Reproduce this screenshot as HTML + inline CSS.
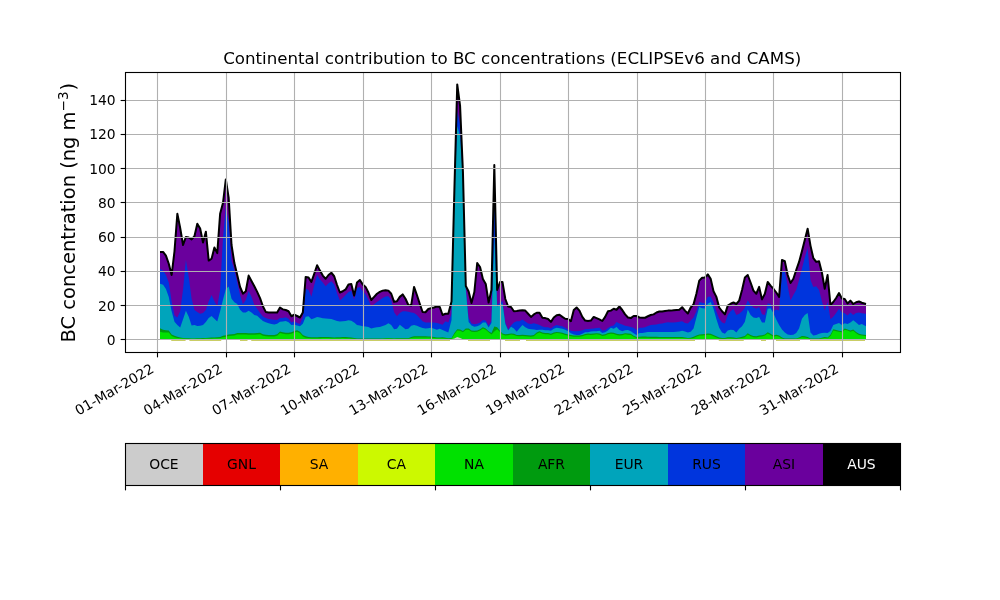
<!DOCTYPE html>
<html lang="en"><head><meta charset="utf-8"><title>Continental contribution to BC concentrations</title>
<style>
html,body{margin:0;padding:0;background:#fff;}
body{width:1000px;height:600px;overflow:hidden;}
svg{display:block;}
</style></head><body>
<svg width="1000" height="600" viewBox="0 0 1000 600">
<rect x="0" y="0" width="1000" height="600" fill="#ffffff"/>
<defs><clipPath id="axclip"><rect x="125" y="72" width="775" height="280"/></clipPath></defs>
<g id="stack" clip-path="url(#axclip)">
<path d="M160,251.9 163.08,251.9 165.93,255.6 168.78,263.75 171.63,275 174.49,251.25 177.34,213.75 180.19,228 183.04,245 185.9,236.9 188.75,237.5 191.6,239.4 194.45,236.25 197.3,223.75 200.16,228.5 203.01,242.5 205.86,231.7 208.71,260.6 211.56,258.75 214.41,247.5 217.27,253.1 220.12,213.75 222.97,203.1 225.82,179.4 228.68,198 231.53,245 234.38,263.1 237.23,275 240.08,287 242.94,293.7 245.79,291.25 248.64,275.6 251.49,281 254.34,286.25 257.19,291.9 260.05,298.1 262.9,306.25 265.75,311.9 268.6,312.5 271.45,312.5 274.31,312.5 277.16,312.5 280.01,307.5 282.86,309.38 285.72,310 288.57,311.25 291.42,316.25 294.27,314.75 297.12,316 299.98,317.5 302.83,312.5 305.68,276.88 308.53,277.5 311.38,281.88 314.24,273.75 317.09,265.2 319.94,270.62 322.79,275.62 325.64,278.75 328.5,275 331.35,272.75 334.2,276.25 337.05,285 339.9,292.5 342.75,291.25 345.61,289.38 348.46,284.38 351.31,284 354.16,295.62 357.01,282.5 359.87,280 362.72,284.38 365.57,286.88 368.42,292.5 371.27,300 374.13,296.88 376.98,293.75 379.83,291.88 382.68,290.62 385.53,290.25 388.39,290.62 391.24,293.75 394.09,301.88 396.94,301.25 399.79,296.88 402.65,294.4 405.5,298.75 408.35,305 411.2,305.4 414.05,286.9 416.91,295 419.76,303.75 422.61,312 425.46,312.25 428.31,309 431.17,308.1 434.02,307.5 436.87,306.5 439.72,306.9 442.58,315 445.43,313.75 448.28,313.8 451.53,301.5 454.38,190 457.24,84.4 460.09,106 462.94,172 465.79,286 468.64,291.5 471.5,303 474.35,292 477.2,263 480.05,267 482.9,279 485.75,284 488.61,302.5 491.46,290 494.31,165 497.16,290 500.01,282 502.47,282 505.32,299 508.17,306.5 511.02,307 513.88,311.25 516.73,311 519.58,310.6 522.43,310.25 525.28,310.6 528.13,313.75 530.99,316.9 533.84,314.4 536.69,312.75 539.54,312.75 542.39,317.75 545.25,318.1 548.1,319 550.95,321.9 553.8,317.5 556.65,315.25 559.51,314.75 562.36,316.9 565.21,318.75 568.06,319 570.91,321.25 573.77,310 576.62,307.5 579.47,310.6 582.32,316.9 585.17,320.6 588.03,321 590.88,320.6 593.73,316.9 596.58,318.1 599.43,319.4 602.29,321 605.14,316.9 607.99,311.25 610.84,310.6 613.69,308.75 616.55,309.75 619.4,306.5 622.25,310 625.1,314.4 627.95,317.5 630.81,318.1 633.66,316 636.51,316 639.36,317.5 642.22,317.75 645.07,317.75 647.92,316.25 650.77,315 653.62,314.38 656.48,312.5 659.33,311.5 662.18,311.5 665.03,311 667.88,310.62 670.74,310.62 673.59,310.25 676.44,310 679.29,309.75 682.14,307.25 685,310.62 687.85,313.5 690.7,307.5 693.55,304.38 696.4,293.75 699.25,280.62 702.11,277.75 704.96,277.5 707.81,274.38 710.66,278.75 713.51,291.25 716.37,296.88 719.22,307.5 722.07,311.25 724.92,314.38 727.77,305.62 730.63,303.75 733.48,302.5 736.33,304 739.18,300.62 742.03,290 744.89,277.5 747.74,275 750.59,282.5 753.44,290.62 756.29,293.75 759.15,286.88 762,299.4 764.85,293.75 767.7,281.9 770.55,285.6 773.41,288.75 776.26,292.5 779.11,296.9 781.96,260 784.81,261.25 787.67,275 790.52,283 793.37,278.75 796.22,270 799.07,261.9 801.93,251.25 804.78,240 807.63,228.75 810.48,245.6 813.33,258.1 816.19,261.9 819.04,261.25 821.89,272.5 824.74,288.75 827.59,275 830.45,305 833.3,302 836.15,298 839,293 841.85,298.5 844.71,299 847.56,303.5 850.41,300.6 853.26,304 856.11,302.25 858.97,301.5 861.82,302.75 866,304 866,339.25 861.82,339.25 858.97,339.25 856.11,339.25 853.26,339.25 850.41,339.25 847.56,339.25 844.71,339.25 841.85,339.25 839,339.25 836.15,339.25 833.3,339.25 830.45,339.25 827.59,339.25 824.74,339.25 821.89,339.25 819.04,339.25 816.19,339.25 813.33,339.25 810.48,339.25 807.63,339.25 804.78,339.25 801.93,339.25 799.07,339.25 796.22,339.25 793.37,339.25 790.52,339.25 787.67,339.25 784.81,339.25 781.96,339.25 779.11,339.25 776.26,339.25 773.41,339.25 770.55,339.25 767.7,339.25 764.85,339.25 762,339.25 759.15,339.25 756.29,339.25 753.44,339.25 750.59,339.25 747.74,339.25 744.89,339.25 742.03,339.25 739.18,339.25 736.33,339.25 733.48,339.25 730.63,339.25 727.77,339.25 724.92,339.25 722.07,339.25 719.22,339.25 716.37,339.25 713.51,339.25 710.66,339.25 707.81,339.25 704.96,339.25 702.11,339.25 699.25,339.25 696.4,339.25 693.55,339.25 690.7,339.25 687.85,339.25 685,339.25 682.14,339.25 679.29,339.25 676.44,339.25 673.59,339.25 670.74,339.25 667.88,339.25 665.03,339.25 662.18,339.25 659.33,339.25 656.48,339.25 653.62,339.25 650.77,339.25 647.92,339.25 645.07,339.25 642.22,339.25 639.36,339.25 636.51,339.25 633.66,339.25 630.81,339.25 627.95,339.25 625.1,339.25 622.25,339.25 619.4,339.25 616.55,339.25 613.69,339.25 610.84,339.25 607.99,339.25 605.14,339.25 602.29,339.25 599.43,339.25 596.58,339.25 593.73,339.25 590.88,339.25 588.03,339.25 585.17,339.25 582.32,339.25 579.47,339.25 576.62,339.25 573.77,339.25 570.91,339.25 568.06,339.25 565.21,339.25 562.36,339.25 559.51,339.25 556.65,339.25 553.8,339.25 550.95,339.25 548.1,339.25 545.25,339.25 542.39,339.25 539.54,339.25 536.69,339.25 533.84,339.25 530.99,339.25 528.13,339.25 525.28,339.25 522.43,339.25 519.58,339.25 516.73,339.25 513.88,339.25 511.02,339.25 508.17,339.25 505.32,339.25 502.47,339.25 500.01,339.25 497.16,339.25 494.31,339.25 491.46,339.25 488.61,339.25 485.75,339.25 482.9,339.25 480.05,339.25 477.2,339.25 474.35,339.25 471.5,339.25 468.64,339.25 465.79,339.25 462.94,339.25 460.09,339.25 457.24,339.25 454.38,339.25 451.53,339.25 448.28,339.25 445.43,339.25 442.58,339.25 439.72,339.25 436.87,339.25 434.02,339.25 431.17,339.25 428.31,339.25 425.46,339.25 422.61,339.25 419.76,339.25 416.91,339.25 414.05,339.25 411.2,339.25 408.35,339.25 405.5,339.25 402.65,339.25 399.79,339.25 396.94,339.25 394.09,339.25 391.24,339.25 388.39,339.25 385.53,339.25 382.68,339.25 379.83,339.25 376.98,339.25 374.13,339.25 371.27,339.25 368.42,339.25 365.57,339.25 362.72,339.25 359.87,339.25 357.01,339.25 354.16,339.25 351.31,339.25 348.46,339.25 345.61,339.25 342.75,339.25 339.9,339.25 337.05,339.25 334.2,339.25 331.35,339.25 328.5,339.25 325.64,339.25 322.79,339.25 319.94,339.25 317.09,339.25 314.24,339.25 311.38,339.25 308.53,339.25 305.68,339.25 302.83,339.25 299.98,339.25 297.12,339.25 294.27,339.25 291.42,339.25 288.57,339.25 285.72,339.25 282.86,339.25 280.01,339.25 277.16,339.25 274.31,339.25 271.45,339.25 268.6,339.25 265.75,339.25 262.9,339.25 260.05,339.25 257.19,339.25 254.34,339.25 251.49,339.25 248.64,339.25 245.79,339.25 242.94,339.25 240.08,339.25 237.23,339.25 234.38,339.25 231.53,339.25 228.68,339.25 225.82,339.25 222.97,339.25 220.12,339.25 217.27,339.25 214.41,339.25 211.56,339.25 208.71,339.25 205.86,339.25 203.01,339.25 200.16,339.25 197.3,339.25 194.45,339.25 191.6,339.25 188.75,339.25 185.9,339.25 183.04,339.25 180.19,339.25 177.34,339.25 174.49,339.25 171.63,339.25 168.78,339.25 165.93,339.25 163.08,339.25 160,339.25Z" fill="#6a009d"/>
<path d="M160,269 163.08,270.6 165.93,275 168.78,282.5 171.63,301.25 174.49,315.6 177.34,317.5 180.19,311.25 183.04,289.5 185.9,260 188.75,277 191.6,298.75 194.45,310 197.3,311.9 200.16,313.75 203.01,313.1 205.86,310 208.71,301.25 211.56,295 214.41,301.25 217.27,306.25 220.12,290 222.97,238 225.82,207 228.68,222 231.53,261 234.38,270 237.23,282.5 240.08,295 242.94,304.3 245.79,300 248.64,291 251.49,297 254.34,305 257.19,308.75 260.05,313 262.9,316.4 265.75,318.1 268.6,318.9 271.45,319.4 274.31,319.8 277.16,320 280.01,318.1 282.86,318.12 285.72,317.26 288.57,318.72 291.42,322.48 294.27,321.26 297.12,323.12 299.98,323.99 302.83,317.61 305.68,288.71 308.53,289.99 311.38,296.84 314.24,285.06 317.09,275 319.94,279.44 322.79,282.55 325.64,286.23 328.5,283.13 331.35,281.27 334.2,284.6 337.05,293.26 339.9,300.6 342.75,298.12 345.61,295.02 348.46,291.92 351.31,290.82 354.16,299.84 357.01,288.12 359.87,286.88 362.72,291.2 365.57,294.32 368.42,300.11 371.27,306.85 374.13,304.37 376.98,301.89 379.83,300.03 382.68,298.09 385.53,296.5 388.39,296.27 391.24,299.99 394.09,312.35 396.94,316.18 399.79,313.1 402.65,311.25 405.5,311.25 408.35,311.87 411.2,312.49 414.05,313.11 416.91,315.03 419.76,318.13 422.61,321.23 425.46,322.48 428.31,322.5 431.17,322.5 434.02,322.5 436.87,323.12 439.72,323.74 442.58,324.73 445.43,321.27 448.28,322.48 451.53,313.75 454.38,193 457.24,111 460.09,124 462.94,175 465.79,288 468.64,318 471.5,323.48 474.35,324.36 477.2,323.73 480.05,322.48 482.9,320 485.75,320.59 488.61,325.55 491.46,321 494.31,180 497.16,305 500.01,302.5 502.47,301 505.32,322.5 508.17,329.5 511.02,325.5 513.88,322.5 516.73,321.26 519.58,321.25 522.43,319.42 525.28,321.52 528.13,323.5 530.99,324 533.84,323.14 536.69,324.02 539.54,325.02 542.39,326.51 545.25,327.25 548.1,327.25 550.95,328.44 553.8,326.23 556.65,325.01 559.51,325.63 562.36,326.25 565.21,327.8 568.06,329.4 570.91,330.63 573.77,331.25 576.62,331.25 579.47,330.97 582.32,330.23 585.17,329.37 588.03,329 590.88,328.75 593.73,328.49 596.58,328.11 599.43,327.81 602.29,330.62 605.14,330.24 607.99,328.05 610.84,326.23 613.69,325.53 616.55,321.9 619.4,323.51 622.25,324.43 625.1,325.65 627.95,326.27 630.81,326.89 633.66,327.78 636.51,330.06 639.36,327.75 642.22,327.75 645.07,327.22 647.92,325.98 650.77,325 653.62,324.75 656.48,324.38 659.33,323.74 662.18,323.49 665.03,322.74 667.88,322.25 670.74,322.5 673.59,322.49 676.44,322.24 679.29,321.87 682.14,321.26 685,323.12 687.85,323.4 690.7,320.54 693.55,317.39 696.4,311.16 699.25,301.88 702.11,302.79 704.96,303.55 707.81,296.82 710.66,296.42 713.51,302.55 716.37,311.56 719.22,318.87 722.07,322.53 724.92,323.6 727.77,314.97 730.63,311.14 733.48,308.98 736.33,314.96 739.18,313.7 742.03,311.21 744.89,307.74 747.74,300.2 750.59,305.08 753.44,307.53 756.29,308.72 759.15,306.93 762,314.37 764.85,314.99 767.7,303.14 770.55,303.89 773.41,311.23 776.26,309.38 779.11,310.62 781.96,272 784.81,271 787.67,286 790.52,300.6 793.37,295 796.22,290 799.07,280 801.93,268.75 804.78,257.5 807.63,248 810.48,280 813.33,287 816.19,286.25 819.04,290 821.89,301.25 824.74,310.6 827.59,302.01 830.45,319.31 833.3,316.81 836.15,313.09 839,308.7 841.85,312.52 844.71,313.2 847.56,315.56 850.41,312.53 853.26,314.91 856.11,313.1 858.97,312.52 861.82,313.14 866,313.75 866,339.25 861.82,339.25 858.97,339.25 856.11,339.25 853.26,339.25 850.41,339.25 847.56,339.25 844.71,339.25 841.85,339.25 839,339.25 836.15,339.25 833.3,339.25 830.45,339.25 827.59,339.25 824.74,339.25 821.89,339.25 819.04,339.25 816.19,339.25 813.33,339.25 810.48,339.25 807.63,339.25 804.78,339.25 801.93,339.25 799.07,339.25 796.22,339.25 793.37,339.25 790.52,339.25 787.67,339.25 784.81,339.25 781.96,339.25 779.11,339.25 776.26,339.25 773.41,339.25 770.55,339.25 767.7,339.25 764.85,339.25 762,339.25 759.15,339.25 756.29,339.25 753.44,339.25 750.59,339.25 747.74,339.25 744.89,339.25 742.03,339.25 739.18,339.25 736.33,339.25 733.48,339.25 730.63,339.25 727.77,339.25 724.92,339.25 722.07,339.25 719.22,339.25 716.37,339.25 713.51,339.25 710.66,339.25 707.81,339.25 704.96,339.25 702.11,339.25 699.25,339.25 696.4,339.25 693.55,339.25 690.7,339.25 687.85,339.25 685,339.25 682.14,339.25 679.29,339.25 676.44,339.25 673.59,339.25 670.74,339.25 667.88,339.25 665.03,339.25 662.18,339.25 659.33,339.25 656.48,339.25 653.62,339.25 650.77,339.25 647.92,339.25 645.07,339.25 642.22,339.25 639.36,339.25 636.51,339.25 633.66,339.25 630.81,339.25 627.95,339.25 625.1,339.25 622.25,339.25 619.4,339.25 616.55,339.25 613.69,339.25 610.84,339.25 607.99,339.25 605.14,339.25 602.29,339.25 599.43,339.25 596.58,339.25 593.73,339.25 590.88,339.25 588.03,339.25 585.17,339.25 582.32,339.25 579.47,339.25 576.62,339.25 573.77,339.25 570.91,339.25 568.06,339.25 565.21,339.25 562.36,339.25 559.51,339.25 556.65,339.25 553.8,339.25 550.95,339.25 548.1,339.25 545.25,339.25 542.39,339.25 539.54,339.25 536.69,339.25 533.84,339.25 530.99,339.25 528.13,339.25 525.28,339.25 522.43,339.25 519.58,339.25 516.73,339.25 513.88,339.25 511.02,339.25 508.17,339.25 505.32,339.25 502.47,339.25 500.01,339.25 497.16,339.25 494.31,339.25 491.46,339.25 488.61,339.25 485.75,339.25 482.9,339.25 480.05,339.25 477.2,339.25 474.35,339.25 471.5,339.25 468.64,339.25 465.79,339.25 462.94,339.25 460.09,339.25 457.24,339.25 454.38,339.25 451.53,339.25 448.28,339.25 445.43,339.25 442.58,339.25 439.72,339.25 436.87,339.25 434.02,339.25 431.17,339.25 428.31,339.25 425.46,339.25 422.61,339.25 419.76,339.25 416.91,339.25 414.05,339.25 411.2,339.25 408.35,339.25 405.5,339.25 402.65,339.25 399.79,339.25 396.94,339.25 394.09,339.25 391.24,339.25 388.39,339.25 385.53,339.25 382.68,339.25 379.83,339.25 376.98,339.25 374.13,339.25 371.27,339.25 368.42,339.25 365.57,339.25 362.72,339.25 359.87,339.25 357.01,339.25 354.16,339.25 351.31,339.25 348.46,339.25 345.61,339.25 342.75,339.25 339.9,339.25 337.05,339.25 334.2,339.25 331.35,339.25 328.5,339.25 325.64,339.25 322.79,339.25 319.94,339.25 317.09,339.25 314.24,339.25 311.38,339.25 308.53,339.25 305.68,339.25 302.83,339.25 299.98,339.25 297.12,339.25 294.27,339.25 291.42,339.25 288.57,339.25 285.72,339.25 282.86,339.25 280.01,339.25 277.16,339.25 274.31,339.25 271.45,339.25 268.6,339.25 265.75,339.25 262.9,339.25 260.05,339.25 257.19,339.25 254.34,339.25 251.49,339.25 248.64,339.25 245.79,339.25 242.94,339.25 240.08,339.25 237.23,339.25 234.38,339.25 231.53,339.25 228.68,339.25 225.82,339.25 222.97,339.25 220.12,339.25 217.27,339.25 214.41,339.25 211.56,339.25 208.71,339.25 205.86,339.25 203.01,339.25 200.16,339.25 197.3,339.25 194.45,339.25 191.6,339.25 188.75,339.25 185.9,339.25 183.04,339.25 180.19,339.25 177.34,339.25 174.49,339.25 171.63,339.25 168.78,339.25 165.93,339.25 163.08,339.25 160,339.25Z" fill="#0035dd"/>
<path d="M160,283.75 163.08,284.73 165.93,288.91 168.78,297.04 171.63,311.29 174.49,321.83 177.34,324.96 180.19,327.45 183.04,319.24 185.9,310.67 188.75,316.87 191.6,325.55 194.45,325.03 197.3,326 200.16,325.87 203.01,324.99 205.86,321.89 208.71,318.06 211.56,316.06 214.41,318.79 217.27,321.44 220.12,311.27 222.97,299.65 225.82,289.3 228.68,286.47 231.53,298.78 234.38,302.25 237.23,303.97 240.08,309.83 242.94,312.5 245.79,312.48 248.64,310.63 251.49,312.6 254.34,315.02 257.19,315.67 260.05,318.5 262.9,321 265.75,322.3 268.6,323.3 271.45,324 274.31,324.6 277.16,323.73 280.01,321.87 282.86,321.5 285.72,321.01 288.57,322.22 291.42,325 294.27,324.76 297.12,325.62 299.98,326.24 302.83,323.79 305.68,316.82 308.53,316.16 311.38,319.37 314.24,318.13 317.09,316.89 319.94,317.51 322.79,318.13 325.64,318.5 328.5,318.75 331.35,319 334.2,320.03 337.05,321.01 339.9,321.5 342.75,321.25 345.61,321 348.46,320.26 351.31,320.66 354.16,322.53 357.01,325 359.87,325.62 362.72,326.24 365.57,326.5 368.42,326.9 371.27,328.49 374.13,327.75 376.98,327.25 379.83,326.88 382.68,325.98 385.53,324.98 388.39,323.13 391.24,324.99 394.09,329.32 396.94,328.71 399.79,324.8 402.65,326.89 405.5,329.37 408.35,328.76 411.2,325.68 414.05,325.02 416.91,325.64 419.76,326.88 422.61,328.12 425.46,328.5 428.31,328.13 431.17,327.76 434.02,328.76 436.87,329.75 439.72,328.76 442.58,329.98 445.43,331.27 448.28,332.48 451.53,320 454.38,196 457.24,126 460.09,136 462.94,178 465.79,289.5 468.64,322 471.5,325.46 474.35,326.86 477.2,326.23 480.05,324.98 482.9,322.49 485.75,322.46 488.61,327.43 491.46,323 494.31,237 497.16,306.5 500.01,305 502.47,303.5 505.32,324 508.17,330.5 511.02,326.8 513.88,328.5 516.73,331.76 519.58,328.15 522.43,325.04 525.28,327.27 528.13,328.75 530.99,329.37 533.84,329.38 536.69,329.99 539.54,329.75 542.39,329.75 545.25,330.25 548.1,330.25 550.95,330.82 553.8,328.73 556.65,327.75 559.51,328.13 562.36,328.75 565.21,329.79 568.06,331.29 570.91,333.14 573.77,334.38 576.62,335 579.47,334.96 582.32,333.71 585.17,332.25 588.03,332.24 590.88,331.5 593.73,331.25 596.58,331.23 599.43,330.68 602.29,333.11 605.14,332.24 607.99,330.51 610.84,327.78 613.69,328.7 616.55,326.93 619.4,330.01 622.25,331.21 625.1,330.24 627.95,330.03 630.81,331.29 633.66,333.15 636.51,335.03 639.36,333.12 642.22,333.12 645.07,332.49 647.92,332.12 650.77,331.88 653.62,332.12 656.48,332.12 659.33,332.12 662.18,332.12 665.03,332.12 667.88,332.12 670.74,332.12 673.59,332.12 676.44,331.87 679.29,331.49 682.14,330.63 685,331.5 687.85,332.48 690.7,331.79 693.55,328.55 696.4,317.4 699.25,306.88 702.11,308.24 704.96,308.6 707.81,303.71 710.66,301.97 713.51,308.8 716.37,319.11 719.22,327.66 722.07,332.53 724.92,333.7 727.77,330.62 730.63,329.76 733.48,330.09 736.33,332.39 739.18,328.7 742.03,326.2 744.89,321.87 747.74,309.56 750.59,315.08 753.44,317.51 756.29,318.1 759.15,316.92 762,322.5 764.85,322.5 767.7,308.73 770.55,308.22 773.41,313.19 776.26,319.39 779.11,324.97 781.96,329.47 784.81,332.54 787.67,334.38 790.52,335 793.37,334.75 796.22,332.98 799.07,328.49 801.93,318.68 804.78,314.95 807.63,313.01 810.48,332.62 813.33,335.61 816.19,334.97 819.04,333.74 821.89,333.12 824.74,332.77 827.59,333.06 830.45,331.09 833.3,324.92 836.15,323.99 839,323.08 841.85,324.93 844.71,323.15 847.56,323.97 850.41,322.47 853.26,320.36 856.11,322.6 858.97,324.97 861.82,324.05 866,326.26 866,339.25 861.82,339.25 858.97,339.25 856.11,339.25 853.26,339.25 850.41,339.25 847.56,339.25 844.71,339.25 841.85,339.25 839,339.25 836.15,339.25 833.3,339.25 830.45,339.25 827.59,339.25 824.74,339.25 821.89,339.25 819.04,339.25 816.19,339.25 813.33,339.25 810.48,339.25 807.63,339.25 804.78,339.25 801.93,339.25 799.07,339.25 796.22,339.25 793.37,339.25 790.52,339.25 787.67,339.25 784.81,339.25 781.96,339.25 779.11,339.25 776.26,339.25 773.41,339.25 770.55,339.25 767.7,339.25 764.85,339.25 762,339.25 759.15,339.25 756.29,339.25 753.44,339.25 750.59,339.25 747.74,339.25 744.89,339.25 742.03,339.25 739.18,339.25 736.33,339.25 733.48,339.25 730.63,339.25 727.77,339.25 724.92,339.25 722.07,339.25 719.22,339.25 716.37,339.25 713.51,339.25 710.66,339.25 707.81,339.25 704.96,339.25 702.11,339.25 699.25,339.25 696.4,339.25 693.55,339.25 690.7,339.25 687.85,339.25 685,339.25 682.14,339.25 679.29,339.25 676.44,339.25 673.59,339.25 670.74,339.25 667.88,339.25 665.03,339.25 662.18,339.25 659.33,339.25 656.48,339.25 653.62,339.25 650.77,339.25 647.92,339.25 645.07,339.25 642.22,339.25 639.36,339.25 636.51,339.25 633.66,339.25 630.81,339.25 627.95,339.25 625.1,339.25 622.25,339.25 619.4,339.25 616.55,339.25 613.69,339.25 610.84,339.25 607.99,339.25 605.14,339.25 602.29,339.25 599.43,339.25 596.58,339.25 593.73,339.25 590.88,339.25 588.03,339.25 585.17,339.25 582.32,339.25 579.47,339.25 576.62,339.25 573.77,339.25 570.91,339.25 568.06,339.25 565.21,339.25 562.36,339.25 559.51,339.25 556.65,339.25 553.8,339.25 550.95,339.25 548.1,339.25 545.25,339.25 542.39,339.25 539.54,339.25 536.69,339.25 533.84,339.25 530.99,339.25 528.13,339.25 525.28,339.25 522.43,339.25 519.58,339.25 516.73,339.25 513.88,339.25 511.02,339.25 508.17,339.25 505.32,339.25 502.47,339.25 500.01,339.25 497.16,339.25 494.31,339.25 491.46,339.25 488.61,339.25 485.75,339.25 482.9,339.25 480.05,339.25 477.2,339.25 474.35,339.25 471.5,339.25 468.64,339.25 465.79,339.25 462.94,339.25 460.09,339.25 457.24,339.25 454.38,339.25 451.53,339.25 448.28,339.25 445.43,339.25 442.58,339.25 439.72,339.25 436.87,339.25 434.02,339.25 431.17,339.25 428.31,339.25 425.46,339.25 422.61,339.25 419.76,339.25 416.91,339.25 414.05,339.25 411.2,339.25 408.35,339.25 405.5,339.25 402.65,339.25 399.79,339.25 396.94,339.25 394.09,339.25 391.24,339.25 388.39,339.25 385.53,339.25 382.68,339.25 379.83,339.25 376.98,339.25 374.13,339.25 371.27,339.25 368.42,339.25 365.57,339.25 362.72,339.25 359.87,339.25 357.01,339.25 354.16,339.25 351.31,339.25 348.46,339.25 345.61,339.25 342.75,339.25 339.9,339.25 337.05,339.25 334.2,339.25 331.35,339.25 328.5,339.25 325.64,339.25 322.79,339.25 319.94,339.25 317.09,339.25 314.24,339.25 311.38,339.25 308.53,339.25 305.68,339.25 302.83,339.25 299.98,339.25 297.12,339.25 294.27,339.25 291.42,339.25 288.57,339.25 285.72,339.25 282.86,339.25 280.01,339.25 277.16,339.25 274.31,339.25 271.45,339.25 268.6,339.25 265.75,339.25 262.9,339.25 260.05,339.25 257.19,339.25 254.34,339.25 251.49,339.25 248.64,339.25 245.79,339.25 242.94,339.25 240.08,339.25 237.23,339.25 234.38,339.25 231.53,339.25 228.68,339.25 225.82,339.25 222.97,339.25 220.12,339.25 217.27,339.25 214.41,339.25 211.56,339.25 208.71,339.25 205.86,339.25 203.01,339.25 200.16,339.25 197.3,339.25 194.45,339.25 191.6,339.25 188.75,339.25 185.9,339.25 183.04,339.25 180.19,339.25 177.34,339.25 174.49,339.25 171.63,339.25 168.78,339.25 165.93,339.25 163.08,339.25 160,339.25Z" fill="#00a4bb"/>
<path d="M160,328.25 163.08,329.73 165.93,330.25 168.78,330.41 171.63,334.38 174.49,335.87 177.34,336.86 180.19,337.49 183.04,337.88 185.9,338.25 188.75,338.37 191.6,338.5 194.45,338.44 197.3,338.37 200.16,338.25 203.01,338.12 205.86,337.93 208.71,337.75 211.56,337.62 214.41,337.5 217.27,337.19 220.12,336.88 222.97,335.85 225.82,335.25 228.68,334.45 231.53,334.2 234.38,333.95 237.23,333.07 240.08,332.95 242.94,332.95 245.79,332.95 248.64,333.2 251.49,333.32 254.34,333.19 257.19,332.94 260.05,332.71 262.9,334.13 265.75,334.76 268.6,335 271.45,335 274.31,334.99 277.16,334.36 280.01,331.5 282.86,332.25 285.72,332.74 288.57,332.75 291.42,332.23 294.27,330.99 297.12,330.25 299.98,331.86 302.83,334.95 305.68,336.26 308.53,336.88 311.38,337.25 314.24,337.25 317.09,337.25 319.94,337.06 322.79,336.88 325.64,336.88 328.5,336.88 331.35,337.19 334.2,337.5 337.05,337.37 339.9,337.25 342.75,336.88 345.61,337.12 348.46,337.31 351.31,337.51 354.16,338.01 357.01,338.5 359.87,338.5 362.72,338.5 365.57,338.5 368.42,338.5 371.27,338.5 374.13,338.5 376.98,338.5 379.83,338.5 382.68,338.49 385.53,338.18 388.39,337.88 391.24,338.25 394.09,338.5 396.94,338.37 399.79,338.25 402.65,338.21 405.5,338.17 408.35,338.13 411.2,336.9 414.05,336.27 416.91,336.25 419.76,336.25 422.61,336.25 425.46,336.25 428.31,336.38 431.17,336.51 434.02,336.88 436.87,337.5 439.72,337.38 442.58,337.25 445.43,337.76 448.28,338.22 451.53,338.05 454.38,332.99 457.24,329.22 460.09,329.49 462.94,331.04 465.79,328.57 468.64,328.57 471.5,330.43 474.35,330.69 477.2,330.43 480.05,329.18 482.9,327.32 485.75,328.55 488.61,331.13 491.46,332.9 494.31,326.62 497.16,327.33 500.01,330.85 502.47,333.4 505.32,334.24 508.17,333.99 511.02,333.38 513.88,333.75 516.73,334.88 519.58,335 522.43,334.75 525.28,335 528.13,335.25 530.99,335.62 533.84,335.01 536.69,332.47 539.54,331.27 542.39,332.5 545.25,333.12 548.1,333.12 550.95,333.72 553.8,332.49 556.65,331.88 559.51,332.13 562.36,332.75 565.21,333.77 568.06,334.39 570.91,335.01 573.77,335.62 576.62,335.62 579.47,335.6 582.32,334.97 585.17,333.99 588.03,333.5 590.88,333.75 593.73,333.49 596.58,333.14 599.43,333.53 602.29,334.75 605.14,334.37 607.99,333.1 610.84,332.51 613.69,332.77 616.55,333.76 619.4,334.37 622.25,333.96 625.1,333.14 627.95,333.51 630.81,333.79 633.66,335.64 636.51,336.89 639.36,336.63 642.22,336.62 645.07,336.62 647.92,336.63 650.77,336.71 653.62,336.79 656.48,336.87 659.33,336.88 662.18,336.88 665.03,336.88 667.88,336.88 670.74,336.88 673.59,336.88 676.44,336.88 679.29,336.88 682.14,336.88 685,337.5 687.85,337.88 690.7,337.85 693.55,336.85 696.4,335.61 699.25,334.38 702.11,334.36 704.96,333.99 707.81,333.51 710.66,333.77 713.51,335.01 716.37,336.3 719.22,337.52 722.07,338.12 724.92,338.11 727.77,337.25 730.63,337.26 733.48,337.52 736.33,338.11 739.18,337.49 742.03,336.87 744.89,336.1 747.74,333.2 750.59,335.03 753.44,336.01 756.29,336.25 759.15,335.62 762,335.25 764.85,334.38 767.7,332.29 770.55,333.79 773.41,335.62 776.26,334.75 779.11,335.62 781.96,337.53 784.81,338.5 787.67,338.5 790.52,338.5 793.37,338.5 796.22,338.47 799.07,337.46 801.93,336 804.78,336.26 807.63,336.88 810.48,338.5 813.33,338.5 816.19,338.5 819.04,338.5 821.89,337.74 824.74,336.9 827.59,337.42 830.45,334.86 833.3,329.34 836.15,330.01 839,330.65 841.85,331.15 844.71,328.52 847.56,329.4 850.41,330.61 853.26,329.49 856.11,331.95 858.97,333.77 861.82,334.39 866,335 866,339.25 861.82,339.25 858.97,339.25 856.11,339.25 853.26,339.25 850.41,339.25 847.56,339.25 844.71,339.25 841.85,339.25 839,339.25 836.15,339.25 833.3,339.25 830.45,339.25 827.59,339.25 824.74,339.25 821.89,339.25 819.04,339.25 816.19,339.25 813.33,339.25 810.48,339.25 807.63,339.25 804.78,339.25 801.93,339.25 799.07,339.25 796.22,339.25 793.37,339.25 790.52,339.25 787.67,339.25 784.81,339.25 781.96,339.25 779.11,339.25 776.26,339.25 773.41,339.25 770.55,339.25 767.7,339.25 764.85,339.25 762,339.25 759.15,339.25 756.29,339.25 753.44,339.25 750.59,339.25 747.74,339.25 744.89,339.25 742.03,339.25 739.18,339.25 736.33,339.25 733.48,339.25 730.63,339.25 727.77,339.25 724.92,339.25 722.07,339.25 719.22,339.25 716.37,339.25 713.51,339.25 710.66,339.25 707.81,339.25 704.96,339.25 702.11,339.25 699.25,339.25 696.4,339.25 693.55,339.25 690.7,339.25 687.85,339.25 685,339.25 682.14,339.25 679.29,339.25 676.44,339.25 673.59,339.25 670.74,339.25 667.88,339.25 665.03,339.25 662.18,339.25 659.33,339.25 656.48,339.25 653.62,339.25 650.77,339.25 647.92,339.25 645.07,339.25 642.22,339.25 639.36,339.25 636.51,339.25 633.66,339.25 630.81,339.25 627.95,339.25 625.1,339.25 622.25,339.25 619.4,339.25 616.55,339.25 613.69,339.25 610.84,339.25 607.99,339.25 605.14,339.25 602.29,339.25 599.43,339.25 596.58,339.25 593.73,339.25 590.88,339.25 588.03,339.25 585.17,339.25 582.32,339.25 579.47,339.25 576.62,339.25 573.77,339.25 570.91,339.25 568.06,339.25 565.21,339.25 562.36,339.25 559.51,339.25 556.65,339.25 553.8,339.25 550.95,339.25 548.1,339.25 545.25,339.25 542.39,339.25 539.54,339.25 536.69,339.25 533.84,339.25 530.99,339.25 528.13,339.25 525.28,339.25 522.43,339.25 519.58,339.25 516.73,339.25 513.88,339.25 511.02,339.25 508.17,339.25 505.32,339.25 502.47,339.25 500.01,339.25 497.16,339.25 494.31,339.25 491.46,339.25 488.61,339.25 485.75,339.25 482.9,339.25 480.05,339.25 477.2,339.25 474.35,339.25 471.5,339.25 468.64,339.25 465.79,339.25 462.94,339.25 460.09,339.25 457.24,339.25 454.38,339.25 451.53,339.25 448.28,339.25 445.43,339.25 442.58,339.25 439.72,339.25 436.87,339.25 434.02,339.25 431.17,339.25 428.31,339.25 425.46,339.25 422.61,339.25 419.76,339.25 416.91,339.25 414.05,339.25 411.2,339.25 408.35,339.25 405.5,339.25 402.65,339.25 399.79,339.25 396.94,339.25 394.09,339.25 391.24,339.25 388.39,339.25 385.53,339.25 382.68,339.25 379.83,339.25 376.98,339.25 374.13,339.25 371.27,339.25 368.42,339.25 365.57,339.25 362.72,339.25 359.87,339.25 357.01,339.25 354.16,339.25 351.31,339.25 348.46,339.25 345.61,339.25 342.75,339.25 339.9,339.25 337.05,339.25 334.2,339.25 331.35,339.25 328.5,339.25 325.64,339.25 322.79,339.25 319.94,339.25 317.09,339.25 314.24,339.25 311.38,339.25 308.53,339.25 305.68,339.25 302.83,339.25 299.98,339.25 297.12,339.25 294.27,339.25 291.42,339.25 288.57,339.25 285.72,339.25 282.86,339.25 280.01,339.25 277.16,339.25 274.31,339.25 271.45,339.25 268.6,339.25 265.75,339.25 262.9,339.25 260.05,339.25 257.19,339.25 254.34,339.25 251.49,339.25 248.64,339.25 245.79,339.25 242.94,339.25 240.08,339.25 237.23,339.25 234.38,339.25 231.53,339.25 228.68,339.25 225.82,339.25 222.97,339.25 220.12,339.25 217.27,339.25 214.41,339.25 211.56,339.25 208.71,339.25 205.86,339.25 203.01,339.25 200.16,339.25 197.3,339.25 194.45,339.25 191.6,339.25 188.75,339.25 185.9,339.25 183.04,339.25 180.19,339.25 177.34,339.25 174.49,339.25 171.63,339.25 168.78,339.25 165.93,339.25 163.08,339.25 160,339.25Z" fill="#009b0f"/>
<path d="M160,331.65 163.08,332.53 165.93,332.55 168.78,332.41 171.63,336.08 174.49,337.37 177.34,338.06 180.19,338.37 183.04,338.57 185.9,338.75 188.75,338.81 191.6,338.87 194.45,338.84 197.3,338.81 200.16,338.75 203.01,338.69 205.86,338.59 208.71,338.5 211.56,338.44 214.41,338.37 217.27,338.22 220.12,338.06 222.97,337.35 225.82,336.75 228.68,335.95 231.53,335.7 234.38,335.45 237.23,334.57 240.08,334.45 242.94,334.45 245.79,334.45 248.64,334.7 251.49,334.82 254.34,334.69 257.19,334.44 260.05,334.21 262.9,335.63 265.75,336.26 268.6,336.5 271.45,336.5 274.31,336.49 277.16,335.86 280.01,333 282.86,333.75 285.72,334.24 288.57,334.25 291.42,333.73 294.27,332.49 297.12,331.75 299.98,333.36 302.83,336.45 305.68,337.76 308.53,338.06 311.38,338.25 314.24,338.25 317.09,338.25 319.94,338.16 322.79,338.06 325.64,338.06 328.5,338.06 331.35,338.22 334.2,338.37 337.05,338.31 339.9,338.25 342.75,338.06 345.61,338.19 348.46,338.28 351.31,338.38 354.16,338.63 357.01,338.88 359.87,338.88 362.72,338.88 365.57,338.88 368.42,338.88 371.27,338.88 374.13,338.88 376.98,338.88 379.83,338.88 382.68,338.87 385.53,338.72 388.39,338.56 391.24,338.75 394.09,338.87 396.94,338.81 399.79,338.75 402.65,338.73 405.5,338.71 408.35,338.69 411.2,338.07 414.05,337.47 416.91,337.45 419.76,337.45 422.61,337.45 425.46,337.45 428.31,337.58 431.17,337.71 434.02,338.06 436.87,338.37 439.72,338.31 442.58,338.25 445.43,338.5 448.28,338.74 451.53,338.65 454.38,334.19 457.24,330.42 460.09,330.69 462.94,332.24 465.79,329.77 468.64,329.77 471.5,331.63 474.35,331.89 477.2,331.63 480.05,330.38 482.9,328.52 485.75,329.75 488.61,332.33 491.46,334.4 494.31,331.62 497.16,329.33 500.01,332.05 502.47,334.6 505.32,335.44 508.17,335.19 511.02,334.58 513.88,334.95 516.73,336.08 519.58,336.2 522.43,335.95 525.28,336.2 528.13,336.45 530.99,336.82 533.84,336.21 536.69,333.67 539.54,332.47 542.39,333.7 545.25,334.32 548.1,334.32 550.95,334.92 553.8,333.69 556.65,333.08 559.51,333.33 562.36,333.95 565.21,334.97 568.06,335.59 570.91,336.21 573.77,336.82 576.62,336.82 579.47,336.8 582.32,336.17 585.17,335.19 588.03,334.7 590.88,334.95 593.73,334.69 596.58,334.34 599.43,334.73 602.29,335.95 605.14,335.57 607.99,334.3 610.84,333.71 613.69,333.97 616.55,334.96 619.4,335.57 622.25,335.16 625.1,334.34 627.95,334.71 630.81,334.99 633.66,336.84 636.51,338.07 639.36,337.83 642.22,337.82 645.07,337.82 647.92,337.83 650.77,337.91 653.62,337.99 656.48,338.06 659.33,338.06 662.18,338.06 665.03,338.06 667.88,338.06 670.74,338.06 673.59,338.06 676.44,338.06 679.29,338.06 682.14,338.06 685,338.37 687.85,338.56 690.7,338.55 693.55,338.05 696.4,336.81 699.25,335.57 702.11,335.56 704.96,335.19 707.81,334.71 710.66,334.97 713.51,336.21 716.37,337.5 719.22,338.39 722.07,338.69 724.92,338.68 727.77,338.25 730.63,338.26 733.48,338.39 736.33,338.68 739.18,338.37 742.03,338.06 744.89,337.3 747.74,334.4 750.59,336.23 753.44,337.21 756.29,337.45 759.15,336.82 762,336.45 764.85,335.58 767.7,333.49 770.55,334.99 773.41,336.82 776.26,335.95 779.11,336.82 781.96,338.39 784.81,338.88 787.67,338.88 790.52,338.88 793.37,338.88 796.22,338.86 799.07,338.36 801.93,337.2 804.78,337.46 807.63,338.06 810.48,338.88 813.33,338.88 816.19,338.88 819.04,338.88 821.89,338.5 824.74,338.08 827.59,338.33 830.45,336.06 833.3,330.54 836.15,331.21 839,331.85 841.85,332.35 844.71,329.72 847.56,330.6 850.41,331.81 853.26,330.69 856.11,333.15 858.97,334.97 861.82,335.59 866,336.2 866,339.25 861.82,339.25 858.97,339.25 856.11,339.25 853.26,339.25 850.41,339.25 847.56,339.25 844.71,339.25 841.85,339.25 839,339.25 836.15,339.25 833.3,339.25 830.45,339.25 827.59,339.25 824.74,339.25 821.89,339.25 819.04,339.25 816.19,339.25 813.33,339.25 810.48,339.25 807.63,339.25 804.78,339.25 801.93,339.25 799.07,339.25 796.22,339.25 793.37,339.25 790.52,339.25 787.67,339.25 784.81,339.25 781.96,339.25 779.11,339.25 776.26,339.25 773.41,339.25 770.55,339.25 767.7,339.25 764.85,339.25 762,339.25 759.15,339.25 756.29,339.25 753.44,339.25 750.59,339.25 747.74,339.25 744.89,339.25 742.03,339.25 739.18,339.25 736.33,339.25 733.48,339.25 730.63,339.25 727.77,339.25 724.92,339.25 722.07,339.25 719.22,339.25 716.37,339.25 713.51,339.25 710.66,339.25 707.81,339.25 704.96,339.25 702.11,339.25 699.25,339.25 696.4,339.25 693.55,339.25 690.7,339.25 687.85,339.25 685,339.25 682.14,339.25 679.29,339.25 676.44,339.25 673.59,339.25 670.74,339.25 667.88,339.25 665.03,339.25 662.18,339.25 659.33,339.25 656.48,339.25 653.62,339.25 650.77,339.25 647.92,339.25 645.07,339.25 642.22,339.25 639.36,339.25 636.51,339.25 633.66,339.25 630.81,339.25 627.95,339.25 625.1,339.25 622.25,339.25 619.4,339.25 616.55,339.25 613.69,339.25 610.84,339.25 607.99,339.25 605.14,339.25 602.29,339.25 599.43,339.25 596.58,339.25 593.73,339.25 590.88,339.25 588.03,339.25 585.17,339.25 582.32,339.25 579.47,339.25 576.62,339.25 573.77,339.25 570.91,339.25 568.06,339.25 565.21,339.25 562.36,339.25 559.51,339.25 556.65,339.25 553.8,339.25 550.95,339.25 548.1,339.25 545.25,339.25 542.39,339.25 539.54,339.25 536.69,339.25 533.84,339.25 530.99,339.25 528.13,339.25 525.28,339.25 522.43,339.25 519.58,339.25 516.73,339.25 513.88,339.25 511.02,339.25 508.17,339.25 505.32,339.25 502.47,339.25 500.01,339.25 497.16,339.25 494.31,339.25 491.46,339.25 488.61,339.25 485.75,339.25 482.9,339.25 480.05,339.25 477.2,339.25 474.35,339.25 471.5,339.25 468.64,339.25 465.79,339.25 462.94,339.25 460.09,339.25 457.24,339.25 454.38,339.25 451.53,339.25 448.28,339.25 445.43,339.25 442.58,339.25 439.72,339.25 436.87,339.25 434.02,339.25 431.17,339.25 428.31,339.25 425.46,339.25 422.61,339.25 419.76,339.25 416.91,339.25 414.05,339.25 411.2,339.25 408.35,339.25 405.5,339.25 402.65,339.25 399.79,339.25 396.94,339.25 394.09,339.25 391.24,339.25 388.39,339.25 385.53,339.25 382.68,339.25 379.83,339.25 376.98,339.25 374.13,339.25 371.27,339.25 368.42,339.25 365.57,339.25 362.72,339.25 359.87,339.25 357.01,339.25 354.16,339.25 351.31,339.25 348.46,339.25 345.61,339.25 342.75,339.25 339.9,339.25 337.05,339.25 334.2,339.25 331.35,339.25 328.5,339.25 325.64,339.25 322.79,339.25 319.94,339.25 317.09,339.25 314.24,339.25 311.38,339.25 308.53,339.25 305.68,339.25 302.83,339.25 299.98,339.25 297.12,339.25 294.27,339.25 291.42,339.25 288.57,339.25 285.72,339.25 282.86,339.25 280.01,339.25 277.16,339.25 274.31,339.25 271.45,339.25 268.6,339.25 265.75,339.25 262.9,339.25 260.05,339.25 257.19,339.25 254.34,339.25 251.49,339.25 248.64,339.25 245.79,339.25 242.94,339.25 240.08,339.25 237.23,339.25 234.38,339.25 231.53,339.25 228.68,339.25 225.82,339.25 222.97,339.25 220.12,339.25 217.27,339.25 214.41,339.25 211.56,339.25 208.71,339.25 205.86,339.25 203.01,339.25 200.16,339.25 197.3,339.25 194.45,339.25 191.6,339.25 188.75,339.25 185.9,339.25 183.04,339.25 180.19,339.25 177.34,339.25 174.49,339.25 171.63,339.25 168.78,339.25 165.93,339.25 163.08,339.25 160,339.25Z" fill="#00e100"/>
<path d="M160,339.25 163.08,339.25 165.93,339.25 168.78,339.25 171.63,339.25 174.49,339.25 177.34,339.25 180.19,339.25 183.04,339.25 185.9,339.25 188.75,339.25 191.6,339.25 194.45,339.25 197.3,339.25 200.16,339.25 203.01,339.25 205.86,339.25 208.71,339.25 211.56,339.25 214.41,339.25 217.27,339.25 220.12,339.25 222.97,339.25 225.82,339.25 228.68,339.25 231.53,339.25 234.38,339.25 237.23,339.25 240.08,339.25 242.94,339.25 245.79,339.25 248.64,339.25 251.49,339.25 254.34,339.25 257.19,339.25 260.05,339.25 262.9,339.25 265.75,339.25 268.6,339.25 271.45,339.25 274.31,339.25 277.16,339.25 280.01,339.25 282.86,339.25 285.72,339.25 288.57,339.25 291.42,339.25 294.27,339.25 297.12,339.25 299.98,339.25 302.83,339.25 305.68,339.25 308.53,339.25 311.38,339.25 314.24,339.25 317.09,339.25 319.94,339.25 322.79,339.25 325.64,339.25 328.5,339.25 331.35,339.25 334.2,339.25 337.05,339.25 339.9,339.25 342.75,339.25 345.61,339.25 348.46,339.25 351.31,339.25 354.16,339.25 357.01,339.25 359.87,339.25 362.72,339.25 365.57,339.25 368.42,339.25 371.27,339.25 374.13,339.25 376.98,339.25 379.83,339.25 382.68,339.25 385.53,339.25 388.39,339.25 391.24,339.25 394.09,339.25 396.94,339.25 399.79,339.25 402.65,339.25 405.5,339.25 408.35,339.25 411.2,339.25 414.05,339.25 416.91,339.25 419.76,339.25 422.61,339.25 425.46,339.25 428.31,339.25 431.17,339.25 434.02,339.25 436.87,339.25 439.72,339.25 442.58,339.25 445.43,339.25 448.28,339.25 451.53,339.25 454.38,338.45 457.24,336.95 460.09,338.05 462.94,339.25 465.79,339.25 468.64,339.25 471.5,339.25 474.35,339.25 477.2,339.25 480.05,339.25 482.9,339.25 485.75,339.25 488.61,339.25 491.46,339.25 494.31,339.25 497.16,339.25 500.01,339.25 502.47,339.25 505.32,339.25 508.17,339.25 511.02,339.25 513.88,339.25 516.73,339.25 519.58,339.25 522.43,339.25 525.28,339.25 528.13,339.25 530.99,339.25 533.84,339.25 536.69,339.25 539.54,339.25 542.39,339.25 545.25,339.25 548.1,339.25 550.95,339.25 553.8,339.25 556.65,339.25 559.51,339.25 562.36,339.25 565.21,339.25 568.06,339.25 570.91,339.25 573.77,339.25 576.62,339.25 579.47,339.25 582.32,339.25 585.17,339.25 588.03,339.25 590.88,339.25 593.73,339.25 596.58,339.25 599.43,339.25 602.29,339.25 605.14,339.25 607.99,339.25 610.84,339.25 613.69,339.25 616.55,339.25 619.4,339.25 622.25,339.25 625.1,339.25 627.95,339.25 630.81,339.25 633.66,339.25 636.51,339.25 639.36,339.25 642.22,339.25 645.07,339.25 647.92,339.25 650.77,339.25 653.62,339.25 656.48,339.25 659.33,339.25 662.18,339.25 665.03,339.25 667.88,339.25 670.74,339.25 673.59,339.25 676.44,339.25 679.29,339.25 682.14,339.25 685,339.25 687.85,339.25 690.7,339.25 693.55,339.25 696.4,339.25 699.25,339.25 702.11,339.25 704.96,339.25 707.81,339.25 710.66,339.25 713.51,339.25 716.37,339.25 719.22,339.25 722.07,339.25 724.92,339.25 727.77,339.25 730.63,339.25 733.48,339.25 736.33,339.25 739.18,339.25 742.03,339.25 744.89,339.25 747.74,339.25 750.59,339.25 753.44,339.25 756.29,339.25 759.15,339.25 762,339.25 764.85,339.25 767.7,339.25 770.55,339.25 773.41,339.25 776.26,339.25 779.11,339.25 781.96,339.25 784.81,339.25 787.67,339.25 790.52,339.25 793.37,339.25 796.22,339.25 799.07,339.25 801.93,339.25 804.78,339.25 807.63,339.25 810.48,339.25 813.33,339.25 816.19,339.25 819.04,339.25 821.89,339.25 824.74,339.25 827.59,339.25 830.45,339.25 833.3,339.25 836.15,339.25 839,339.25 841.85,339.25 844.71,339.25 847.56,339.25 850.41,339.25 853.26,339.25 856.11,339.25 858.97,339.25 861.82,339.25 866,339.25 866,339.25 861.82,339.25 858.97,339.25 856.11,339.25 853.26,339.25 850.41,339.25 847.56,339.25 844.71,339.25 841.85,339.25 839,339.25 836.15,339.25 833.3,339.25 830.45,339.25 827.59,339.25 824.74,339.25 821.89,339.25 819.04,339.25 816.19,339.25 813.33,339.25 810.48,339.25 807.63,339.25 804.78,339.25 801.93,339.25 799.07,339.25 796.22,339.25 793.37,339.25 790.52,339.25 787.67,339.25 784.81,339.25 781.96,339.25 779.11,339.25 776.26,339.25 773.41,339.25 770.55,339.25 767.7,339.25 764.85,339.25 762,339.25 759.15,339.25 756.29,339.25 753.44,339.25 750.59,339.25 747.74,339.25 744.89,339.25 742.03,339.25 739.18,339.25 736.33,339.25 733.48,339.25 730.63,339.25 727.77,339.25 724.92,339.25 722.07,339.25 719.22,339.25 716.37,339.25 713.51,339.25 710.66,339.25 707.81,339.25 704.96,339.25 702.11,339.25 699.25,339.25 696.4,339.25 693.55,339.25 690.7,339.25 687.85,339.25 685,339.25 682.14,339.25 679.29,339.25 676.44,339.25 673.59,339.25 670.74,339.25 667.88,339.25 665.03,339.25 662.18,339.25 659.33,339.25 656.48,339.25 653.62,339.25 650.77,339.25 647.92,339.25 645.07,339.25 642.22,339.25 639.36,339.25 636.51,339.25 633.66,339.25 630.81,339.25 627.95,339.25 625.1,339.25 622.25,339.25 619.4,339.25 616.55,339.25 613.69,339.25 610.84,339.25 607.99,339.25 605.14,339.25 602.29,339.25 599.43,339.25 596.58,339.25 593.73,339.25 590.88,339.25 588.03,339.25 585.17,339.25 582.32,339.25 579.47,339.25 576.62,339.25 573.77,339.25 570.91,339.25 568.06,339.25 565.21,339.25 562.36,339.25 559.51,339.25 556.65,339.25 553.8,339.25 550.95,339.25 548.1,339.25 545.25,339.25 542.39,339.25 539.54,339.25 536.69,339.25 533.84,339.25 530.99,339.25 528.13,339.25 525.28,339.25 522.43,339.25 519.58,339.25 516.73,339.25 513.88,339.25 511.02,339.25 508.17,339.25 505.32,339.25 502.47,339.25 500.01,339.25 497.16,339.25 494.31,339.25 491.46,339.25 488.61,339.25 485.75,339.25 482.9,339.25 480.05,339.25 477.2,339.25 474.35,339.25 471.5,339.25 468.64,339.25 465.79,339.25 462.94,339.25 460.09,339.25 457.24,339.25 454.38,339.25 451.53,339.25 448.28,339.25 445.43,339.25 442.58,339.25 439.72,339.25 436.87,339.25 434.02,339.25 431.17,339.25 428.31,339.25 425.46,339.25 422.61,339.25 419.76,339.25 416.91,339.25 414.05,339.25 411.2,339.25 408.35,339.25 405.5,339.25 402.65,339.25 399.79,339.25 396.94,339.25 394.09,339.25 391.24,339.25 388.39,339.25 385.53,339.25 382.68,339.25 379.83,339.25 376.98,339.25 374.13,339.25 371.27,339.25 368.42,339.25 365.57,339.25 362.72,339.25 359.87,339.25 357.01,339.25 354.16,339.25 351.31,339.25 348.46,339.25 345.61,339.25 342.75,339.25 339.9,339.25 337.05,339.25 334.2,339.25 331.35,339.25 328.5,339.25 325.64,339.25 322.79,339.25 319.94,339.25 317.09,339.25 314.24,339.25 311.38,339.25 308.53,339.25 305.68,339.25 302.83,339.25 299.98,339.25 297.12,339.25 294.27,339.25 291.42,339.25 288.57,339.25 285.72,339.25 282.86,339.25 280.01,339.25 277.16,339.25 274.31,339.25 271.45,339.25 268.6,339.25 265.75,339.25 262.9,339.25 260.05,339.25 257.19,339.25 254.34,339.25 251.49,339.25 248.64,339.25 245.79,339.25 242.94,339.25 240.08,339.25 237.23,339.25 234.38,339.25 231.53,339.25 228.68,339.25 225.82,339.25 222.97,339.25 220.12,339.25 217.27,339.25 214.41,339.25 211.56,339.25 208.71,339.25 205.86,339.25 203.01,339.25 200.16,339.25 197.3,339.25 194.45,339.25 191.6,339.25 188.75,339.25 185.9,339.25 183.04,339.25 180.19,339.25 177.34,339.25 174.49,339.25 171.63,339.25 168.78,339.25 165.93,339.25 163.08,339.25 160,339.25Z" fill="#cccccc"/>
<rect x="171.25" y="339.3" width="14.35" height="1.3" fill="#a8ac00"/>
<rect x="189.4" y="339.3" width="31.85" height="1.3" fill="#a8ac00"/>
<rect x="240" y="339.3" width="7.5" height="1.3" fill="#a8ac00"/>
<rect x="251.25" y="339.3" width="198.75" height="1.3" fill="#a8ac00"/>
<rect x="468" y="339.3" width="22" height="1.3" fill="#a8ac00"/>
<rect x="505" y="339.3" width="15" height="1.3" fill="#a8ac00"/>
<rect x="526" y="339.3" width="169" height="1.3" fill="#a8ac00"/>
<rect x="718.75" y="339.3" width="25" height="1.3" fill="#a8ac00"/>
<rect x="761" y="339.3" width="5" height="1.3" fill="#a8ac00"/>
<rect x="776" y="339.3" width="24" height="1.3" fill="#a8ac00"/>
<rect x="810" y="339.3" width="55" height="1.3" fill="#a8ac00"/>
</g>
<path id="total" d="M160,251.9 163.08,251.9 165.93,255.6 168.78,263.75 171.63,275 174.49,251.25 177.34,213.75 180.19,228 183.04,245 185.9,236.9 188.75,237.5 191.6,239.4 194.45,236.25 197.3,223.75 200.16,228.5 203.01,242.5 205.86,231.7 208.71,260.6 211.56,258.75 214.41,247.5 217.27,253.1 220.12,213.75 222.97,203.1 225.82,179.4 228.68,198 231.53,245 234.38,263.1 237.23,275 240.08,287 242.94,293.7 245.79,291.25 248.64,275.6 251.49,281 254.34,286.25 257.19,291.9 260.05,298.1 262.9,306.25 265.75,311.9 268.6,312.5 271.45,312.5 274.31,312.5 277.16,312.5 280.01,307.5 282.86,309.38 285.72,310 288.57,311.25 291.42,316.25 294.27,314.75 297.12,316 299.98,317.5 302.83,312.5 305.68,276.88 308.53,277.5 311.38,281.88 314.24,273.75 317.09,265.2 319.94,270.62 322.79,275.62 325.64,278.75 328.5,275 331.35,272.75 334.2,276.25 337.05,285 339.9,292.5 342.75,291.25 345.61,289.38 348.46,284.38 351.31,284 354.16,295.62 357.01,282.5 359.87,280 362.72,284.38 365.57,286.88 368.42,292.5 371.27,300 374.13,296.88 376.98,293.75 379.83,291.88 382.68,290.62 385.53,290.25 388.39,290.62 391.24,293.75 394.09,301.88 396.94,301.25 399.79,296.88 402.65,294.4 405.5,298.75 408.35,305 411.2,305.4 414.05,286.9 416.91,295 419.76,303.75 422.61,312 425.46,312.25 428.31,309 431.17,308.1 434.02,307.5 436.87,306.5 439.72,306.9 442.58,315 445.43,313.75 448.28,313.8 451.53,301.5 454.38,190 457.24,84.4 460.09,106 462.94,172 465.79,286 468.64,291.5 471.5,303 474.35,292 477.2,263 480.05,267 482.9,279 485.75,284 488.61,302.5 491.46,290 494.31,165 497.16,290 500.01,282 502.47,282 505.32,299 508.17,306.5 511.02,307 513.88,311.25 516.73,311 519.58,310.6 522.43,310.25 525.28,310.6 528.13,313.75 530.99,316.9 533.84,314.4 536.69,312.75 539.54,312.75 542.39,317.75 545.25,318.1 548.1,319 550.95,321.9 553.8,317.5 556.65,315.25 559.51,314.75 562.36,316.9 565.21,318.75 568.06,319 570.91,321.25 573.77,310 576.62,307.5 579.47,310.6 582.32,316.9 585.17,320.6 588.03,321 590.88,320.6 593.73,316.9 596.58,318.1 599.43,319.4 602.29,321 605.14,316.9 607.99,311.25 610.84,310.6 613.69,308.75 616.55,309.75 619.4,306.5 622.25,310 625.1,314.4 627.95,317.5 630.81,318.1 633.66,316 636.51,316 639.36,317.5 642.22,317.75 645.07,317.75 647.92,316.25 650.77,315 653.62,314.38 656.48,312.5 659.33,311.5 662.18,311.5 665.03,311 667.88,310.62 670.74,310.62 673.59,310.25 676.44,310 679.29,309.75 682.14,307.25 685,310.62 687.85,313.5 690.7,307.5 693.55,304.38 696.4,293.75 699.25,280.62 702.11,277.75 704.96,277.5 707.81,274.38 710.66,278.75 713.51,291.25 716.37,296.88 719.22,307.5 722.07,311.25 724.92,314.38 727.77,305.62 730.63,303.75 733.48,302.5 736.33,304 739.18,300.62 742.03,290 744.89,277.5 747.74,275 750.59,282.5 753.44,290.62 756.29,293.75 759.15,286.88 762,299.4 764.85,293.75 767.7,281.9 770.55,285.6 773.41,288.75 776.26,292.5 779.11,296.9 781.96,260 784.81,261.25 787.67,275 790.52,283 793.37,278.75 796.22,270 799.07,261.9 801.93,251.25 804.78,240 807.63,228.75 810.48,245.6 813.33,258.1 816.19,261.9 819.04,261.25 821.89,272.5 824.74,288.75 827.59,275 830.45,305 833.3,302 836.15,298 839,293 841.85,298.5 844.71,299 847.56,303.5 850.41,300.6 853.26,304 856.11,302.25 858.97,301.5 861.82,302.75 866,304" fill="none" stroke="#000000" stroke-width="2.0" stroke-linejoin="round" stroke-linecap="butt" clip-path="url(#axclip)"/>
<g id="grid" stroke="#b0b0b0" stroke-width="1.111" fill="none">
<path d="M157.5 72V352"/>
<path d="M226.5 72V352"/>
<path d="M294.5 72V352"/>
<path d="M363.5 72V352"/>
<path d="M431.5 72V352"/>
<path d="M500.5 72V352"/>
<path d="M568.5 72V352"/>
<path d="M637.5 72V352"/>
<path d="M705.5 72V352"/>
<path d="M773.5 72V352"/>
<path d="M842.5 72V352"/>
<path d="M125 339.5H900"/>
<path d="M125 305.5H900"/>
<path d="M125 271.5H900"/>
<path d="M125 237.5H900"/>
<path d="M125 202.5H900"/>
<path d="M125 168.5H900"/>
<path d="M125 134.5H900"/>
<path d="M125 100.5H900"/>
</g>
<g id="ticks" stroke="#000000" stroke-width="1.111" fill="none">
<path d="M157.5 352.5v4.86"/>
<path d="M226.5 352.5v4.86"/>
<path d="M294.5 352.5v4.86"/>
<path d="M363.5 352.5v4.86"/>
<path d="M431.5 352.5v4.86"/>
<path d="M500.5 352.5v4.86"/>
<path d="M568.5 352.5v4.86"/>
<path d="M637.5 352.5v4.86"/>
<path d="M705.5 352.5v4.86"/>
<path d="M773.5 352.5v4.86"/>
<path d="M842.5 352.5v4.86"/>
<path d="M125.5 339.5h-4.86"/>
<path d="M125.5 305.5h-4.86"/>
<path d="M125.5 271.5h-4.86"/>
<path d="M125.5 237.5h-4.86"/>
<path d="M125.5 202.5h-4.86"/>
<path d="M125.5 168.5h-4.86"/>
<path d="M125.5 134.5h-4.86"/>
<path d="M125.5 100.5h-4.86"/>
</g>
<g id="xlabels" style="font-size:13.889px;font-family:'DejaVu Sans','Liberation Sans',sans-serif" fill="#000000" text-anchor="end">
<text transform="translate(155 371.62) rotate(-30)">01-Mar-2022</text>
<text transform="translate(223.46 371.62) rotate(-30)">04-Mar-2022</text>
<text transform="translate(291.91 371.62) rotate(-30)">07-Mar-2022</text>
<text transform="translate(360.37 371.62) rotate(-30)">10-Mar-2022</text>
<text transform="translate(428.83 371.62) rotate(-30)">13-Mar-2022</text>
<text transform="translate(497.28 371.62) rotate(-30)">16-Mar-2022</text>
<text transform="translate(565.74 371.62) rotate(-30)">19-Mar-2022</text>
<text transform="translate(634.2 371.62) rotate(-30)">22-Mar-2022</text>
<text transform="translate(702.66 371.62) rotate(-30)">25-Mar-2022</text>
<text transform="translate(771.11 371.62) rotate(-30)">28-Mar-2022</text>
<text transform="translate(839.57 371.62) rotate(-30)">31-Mar-2022</text>
</g>
<g id="ylabels" style="font-size:13.889px;font-family:'DejaVu Sans','Liberation Sans',sans-serif" fill="#000000" text-anchor="end">
<text x="115.68" y="345">0</text>
<text x="115.68" y="311">20</text>
<text x="115.68" y="276">40</text>
<text x="115.68" y="242">60</text>
<text x="115.68" y="208">80</text>
<text x="115.68" y="174">100</text>
<text x="115.68" y="139">120</text>
<text x="115.68" y="105">140</text>
</g>
<rect x="125.5" y="72.5" width="775" height="280" fill="none" stroke="#000000" stroke-width="1.111"/>
<text transform="translate(75.3 212.6) rotate(-90)" style="font-size:19.444px;font-family:'DejaVu Sans','Liberation Sans',sans-serif" fill="#000000" text-anchor="middle">BC concentration (ng m<tspan dy="-7.44" style="font-size:13.611px">−3</tspan><tspan dy="7.44" dx="1">)</tspan></text>
<text x="512.2" y="63.67" style="font-size:16.667px;font-family:'DejaVu Sans','Liberation Sans',sans-serif" fill="#000000" text-anchor="middle">Continental contribution to BC concentrations (ECLIPSEv6 and CAMS)</text>
<g id="cbar">
<rect x="125" y="443.5" width="78" height="42" fill="#cccccc"/>
<rect x="203" y="443.5" width="77" height="42" fill="#e50000"/>
<rect x="280" y="443.5" width="78" height="42" fill="#ffb000"/>
<rect x="358" y="443.5" width="77" height="42" fill="#ccf900"/>
<rect x="435" y="443.5" width="78" height="42" fill="#00e100"/>
<rect x="513" y="443.5" width="77" height="42" fill="#009b0f"/>
<rect x="590" y="443.5" width="78" height="42" fill="#00a4bb"/>
<rect x="668" y="443.5" width="77" height="42" fill="#0035dd"/>
<rect x="745" y="443.5" width="78" height="42" fill="#6a009d"/>
<rect x="823" y="443.5" width="78" height="42" fill="#000000"/>
<rect x="125.5" y="443.5" width="775" height="42" fill="none" stroke="#000000" stroke-width="1.111"/>
<g stroke="#000000" stroke-width="1.111">
<path d="M125.5 485.5v4.86"/>
<path d="M280.5 485.5v4.86"/>
<path d="M435.5 485.5v4.86"/>
<path d="M590.5 485.5v4.86"/>
<path d="M745.5 485.5v4.86"/>
<path d="M900.5 485.5v4.86"/>
</g>
<g style="font-size:13.889px;font-family:'DejaVu Sans','Liberation Sans',sans-serif" text-anchor="middle">
<text x="163.95" y="469.03" fill="#000000">OCE</text>
<text x="241.45" y="469.03" fill="#000000">GNL</text>
<text x="318.95" y="469.03" fill="#000000">SA</text>
<text x="396.45" y="469.03" fill="#000000">CA</text>
<text x="473.95" y="469.03" fill="#000000">NA</text>
<text x="551.45" y="469.03" fill="#000000">AFR</text>
<text x="628.95" y="469.03" fill="#000000">EUR</text>
<text x="706.45" y="469.03" fill="#000000">RUS</text>
<text x="783.95" y="469.03" fill="#000000">ASI</text>
<text x="861.45" y="469.03" fill="#ffffff">AUS</text>
</g></g>
</svg>
</body></html>
